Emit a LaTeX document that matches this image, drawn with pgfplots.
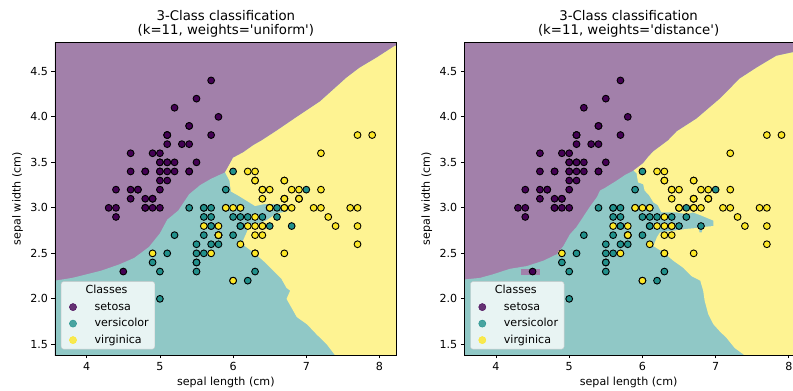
\documentclass[border=0pt]{standalone}
\usepackage{fontspec}
\setmainfont{DejaVu Sans}
\usepackage{pgfplots}
\usepackage{pgfplotstable}
\pgfplotsset{compat=1.18}
\definecolor{bgP}{RGB}{162,128,170}
\definecolor{bgT}{RGB}{144,200,198}
\definecolor{bgY}{RGB}{254,243,146}
\definecolor{cS}{RGB}{68,1,84}
\definecolor{cV}{RGB}{33,145,140}
\definecolor{cG}{RGB}{253,231,37}

\pgfplotstableread{
x y
5.1 3.5
4.9 3.0
4.7 3.2
4.6 3.1
5.0 3.6
5.4 3.9
4.6 3.4
5.0 3.4
4.4 2.9
4.9 3.1
5.4 3.7
4.8 3.4
4.8 3.0
4.3 3.0
5.8 4.0
5.7 4.4
5.4 3.9
5.1 3.5
5.7 3.8
5.1 3.8
5.4 3.4
5.1 3.7
4.6 3.6
5.1 3.3
4.8 3.4
5.0 3.0
5.0 3.4
5.2 3.5
5.2 3.4
4.7 3.2
4.8 3.1
5.4 3.4
5.2 4.1
5.5 4.2
4.9 3.1
5.0 3.2
5.5 3.5
4.9 3.6
4.4 3.0
5.1 3.4
5.0 3.5
4.5 2.3
4.4 3.2
5.0 3.5
5.1 3.8
4.8 3.0
5.1 3.8
4.6 3.2
5.3 3.7
5.0 3.3
}\setosa

\pgfplotstableread{
x y
7.0 3.2
6.4 3.2
6.9 3.1
5.5 2.3
6.5 2.8
5.7 2.8
6.3 3.3
4.9 2.4
6.6 2.9
5.2 2.7
5.0 2.0
5.9 3.0
6.0 2.2
6.1 2.9
5.6 2.9
6.7 3.1
5.6 3.0
5.8 2.7
6.2 2.2
5.6 2.5
5.9 3.2
6.1 2.8
6.3 2.5
6.1 2.8
6.4 2.9
6.6 3.0
6.8 2.8
6.7 3.0
6.0 2.9
5.7 2.6
5.5 2.4
5.5 2.4
5.8 2.7
6.0 2.7
5.4 3.0
6.0 3.4
6.7 3.1
6.3 2.3
5.6 3.0
5.5 2.5
5.5 2.6
6.1 3.0
5.8 2.6
5.0 2.3
5.6 2.7
5.7 3.0
5.7 2.9
6.2 2.9
5.1 2.5
5.7 2.8
}\versicolor

\pgfplotstableread{
x y
6.3 3.3
5.8 2.7
7.1 3.0
6.3 2.9
6.5 3.0
7.6 3.0
4.9 2.5
7.3 2.9
6.7 2.5
7.2 3.6
6.5 3.2
6.4 2.7
6.8 3.0
5.7 2.5
5.8 2.8
6.4 3.2
6.5 3.0
7.7 3.8
7.7 2.6
6.0 2.2
6.9 3.2
5.6 2.8
7.7 2.8
6.3 2.7
6.7 3.3
7.2 3.2
6.2 2.8
6.1 3.0
6.4 2.8
7.2 3.0
7.4 2.8
7.9 3.8
6.4 2.8
6.3 2.8
6.1 2.6
7.7 3.0
6.3 3.4
6.4 3.1
6.0 3.0
6.9 3.1
6.7 3.1
6.9 3.1
5.8 2.7
6.8 3.2
6.7 3.3
6.7 3.0
6.3 2.5
6.5 3.0
6.2 3.4
5.9 3.0
}\virginica

\pgfplotsset{
  knn/.style={
    scale only axis, height=312.5pt,
    ymin=1.383, ymax=4.817,
    axis on top,
    axis line style={line width=0.75pt},
    tick align=outside, tick pos=left,
    major tick length=3.5pt,
    every tick/.style={black, line width=0.75pt},
    xtick={4,5,6,7,8},
    ytick={1.5,2.0,2.5,3.0,3.5,4.0,4.5},
    yticklabel style={/pgf/number format/.cd, fixed, fixed zerofill, precision=1},
    /pgf/number format/assume math mode=true,
    tick label style={font=\fontsize{11.1}{13}\selectfont},
    label style={font=\fontsize{11.1}{13}\selectfont},
    ylabel style={yshift=0.5pt},
    xlabel style={yshift=0.5pt},
    title style={font=\fontsize{13.3}{14}\selectfont, align=center, inner sep=0pt, yshift=-0.8pt},
    xlabel={sepal length (cm)}, ylabel={sepal width (cm)},
    legend cell align=left,
    legend style={at={(0,0)}, anchor=south west, xshift=6pt, yshift=5.7pt,
      fill=white, fill opacity=0.8, text opacity=1, draw=black!20, draw opacity=1,
      rounded corners=2.5pt, font=\fontsize{11.1}{13}\selectfont, row sep=3.5pt,
      inner xsep=5pt, inner ysep=2.5pt,
      nodes={inner sep=1pt, text height=8.5pt, text depth=2.5pt},
      /tikz/every odd column/.append style={column sep=17pt}},
  },
  pts/.style={only marks, mark=*, mark size=3.4pt, forget plot,
    mark options={draw=black, line width=0.9pt}},
  reg/.style={draw=none, forget plot},
  legm/.style={only marks, mark=*, mark size=3.6pt, color=#1,
    legend image code/.code={\path (-6.6pt,0pt); \draw[##1] plot coordinates {(0pt,0pt)};}},
}

\begin{document}
\begin{tikzpicture}
\useasboundingbox (-55pt,-36pt) rectangle (738pt,355pt);
% ---------------- uniform ----------------
\begin{axis}[knn, at={(0pt,0pt)}, width=341.7pt, xmin=3.567, xmax=8.235,
  title={3-Class classification\\(k=11, weights=\textquotesingle uniform\textquotesingle)}]
\addlegendimage{empty legend}\addlegendentry{\hspace*{-9pt}Classes}
\addlegendimage{legm=cS}\addlegendentry{setosa}
\addlegendimage{legm=cV}\addlegendentry{versicolor}
\addlegendimage{legm=cG}\addlegendentry{virginica}
\addplot[reg, fill=bgP] coordinates {(3.4,1.3) (8.4,1.3) (8.4,4.9) (3.4,4.9)} -- cycle;
\addplot[reg, fill=bgT] coordinates {(3.4,1.3) (3.4,2.20) (3.567,2.20) (3.80,2.23) (4.00,2.27) (4.20,2.31) (4.45,2.38) (4.65,2.45) (4.85,2.57) (5.00,2.72) (5.10,2.87) (5.25,2.97) (5.40,3.15) (5.55,3.25) (5.70,3.32) (5.89,3.39) (5.96,3.49) (6.00,3.55) (6.14,3.61) (6.28,3.69) (6.39,3.74) (6.60,3.85) (6.91,4.02) (7.19,4.17) (7.55,4.43) (7.73,4.54) (7.96,4.65) (8.21,4.78) (8.4,4.80) (8.4,1.3)} -- cycle;
\addplot[reg, fill=bgY] coordinates {(5.89,3.39) (5.96,3.49) (6.00,3.55) (6.14,3.61) (6.28,3.69) (6.39,3.74) (6.60,3.85) (6.91,4.02) (7.19,4.17) (7.55,4.43) (7.73,4.54) (7.96,4.65) (8.21,4.78) (8.4,4.80) (8.4,1.3) (7.45,1.3) (7.39,1.383) (7.28,1.50) (7.14,1.61) (7.01,1.72) (6.87,1.80) (6.80,1.90) (6.73,2.0) (6.78,2.09) (6.73,2.12) (6.66,2.22) (6.55,2.31) (6.41,2.42) (6.28,2.51) (6.16,2.58) (6.13,2.63) (6.18,2.72) (6.22,2.80) (6.35,2.83) (6.45,2.86) (6.60,2.94) (6.74,2.96) (6.72,3.03) (6.55,3.04) (6.42,3.04) (6.30,3.02) (6.20,3.07) (6.08,3.13) (5.97,3.18) (5.95,3.30)} -- cycle;
\addplot[pts, fill=cS] table {\setosa};
\addplot[pts, fill=cV] table {\versicolor};
\addplot[pts, fill=cG] table {\virginica};
\end{axis}
% ---------------- distance ----------------
\begin{axis}[knn, at={(409.3pt,0pt)}, width=328.7pt, xmin=3.567, xmax=8.057,
  title={3-Class classification\\(k=11, weights=\textquotesingle distance\textquotesingle)}]
\addlegendimage{empty legend}\addlegendentry{\hspace*{-9pt}Classes}
\addlegendimage{legm=cS}\addlegendentry{setosa}
\addlegendimage{legm=cV}\addlegendentry{versicolor}
\addlegendimage{legm=cG}\addlegendentry{virginica}
\addplot[reg, fill=bgP] coordinates {(3.4,1.3) (8.4,1.3) (8.4,4.9) (3.4,4.9)} -- cycle;
\addplot[reg, fill=bgT] coordinates {(3.4,1.3) (3.4,2.20) (3.78,2.23) (3.96,2.27) (4.19,2.33) (4.42,2.36) (4.65,2.42) (4.83,2.49) (4.92,2.58) (5.01,2.71) (5.10,2.79) (5.19,2.90) (5.28,3.01) (5.38,3.12) (5.42,3.19) (5.49,3.22) (5.65,3.30) (5.76,3.36) (5.88,3.41) (6.01,3.49) (6.08,3.56) (6.15,3.62) (6.35,3.74) (6.47,3.84) (6.74,3.98) (7.06,4.20) (7.33,4.42) (7.56,4.54) (7.83,4.67) (8.06,4.71) (8.2,4.75) (8.2,1.3)} -- cycle;
\addplot[reg, fill=bgP] coordinates {(4.34,2.26) (4.60,2.26) (4.60,2.33) (4.34,2.33)} -- cycle;
\addplot[reg, fill=bgY] coordinates {(5.88,3.41) (6.01,3.49) (6.08,3.56) (6.15,3.62) (6.35,3.74) (6.47,3.84) (6.74,3.98) (7.06,4.20) (7.33,4.42) (7.56,4.54) (7.83,4.67) (8.06,4.71) (8.2,4.75) (8.2,1.3) (7.42,1.3) (7.38,1.39) (7.26,1.46) (7.15,1.57) (7.06,1.64) (6.97,1.72) (6.90,1.83) (6.85,1.98) (6.83,2.09) (6.79,2.20) (6.67,2.25) (6.56,2.34) (6.42,2.42) (6.29,2.51) (6.15,2.58) (6.20,2.68) (6.24,2.73) (6.62,2.77) (6.77,2.78) (6.78,2.73) (6.81,2.73) (6.83,2.79) (6.97,2.80) (6.97,2.86) (6.79,2.92) (6.69,2.95) (6.60,2.93) (6.47,2.95) (6.26,2.95) (6.21,3.03) (6.15,3.06) (6.09,3.14) (6.03,3.19) (6.01,3.26) (5.94,3.28) (5.92,3.38)} -- cycle;
\addplot[reg, fill=bgY] coordinates {(4.85,2.47) (4.92,2.47) (4.92,2.53) (4.85,2.53)} -- cycle;
\addplot[pts, fill=cS] table {\setosa};
\addplot[pts, fill=cV] table {\versicolor};
\addplot[pts, fill=cG] table {\virginica};
\end{axis}
\end{tikzpicture}
\end{document}
